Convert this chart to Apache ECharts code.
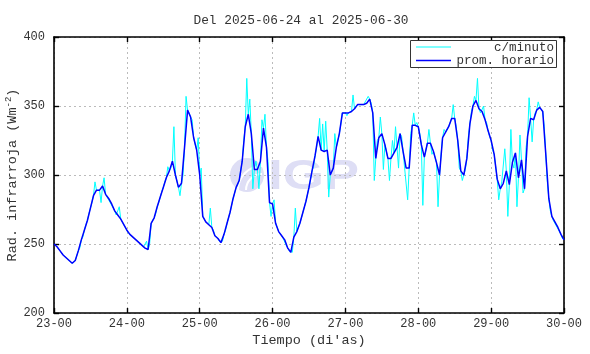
<!DOCTYPE html>
<html><head><meta charset="utf-8">
<script src="https://cdn.jsdelivr.net/npm/echarts@6/dist/echarts.min.js"></script>
<style>html,body{margin:0;padding:0;background:#fff}#c{width:590px;height:354px}</style>
</head><body><div id="c"></div>
<script>
// x tick labels (one per day, every 24 h)
const xTickLabels = ['23-00','24-00','25-00','26-00','27-00','28-00','29-00','30-00'];
// y axis range
const yMin = 200, yMax = 400, yStep = 50;
// hourly average (prom. horario), one value per hour starting 23-00
const hourly = [
 250,248,245,242,240,238,236,238,245,253,260,267,276,285,289,289,292,286,283,279,274,271,268,264,
 260,257,255,253,251,249,247,246,265,269,277,284,291,298,303,310,300,291,294,320,347,342,327,318,
 300,270,266,264,262,256,254,251,257,265,273,283,291,296,310,335,344,330,304,304,310,334,320,280,
 279,265,259,256,253,247,244,255,259,265,273,281,291,303,314,328,318,317,318,300,305,320,330,345,
 345,345,346,348,351,351,351,352,355,345,312,327,330,322,312,312,316,320,330,317,305,305,336,336,
 335,322,313,323,323,317,309,300,327,331,335,341,341,325,303,300,312,337,350,354,348,346,340,332,
 325,315,297,290,294,303,293,309,316,298,311,290,328,341,340,347,349,346,315,283,270,266,262,257,
 253
];
// per-minute data (c/minuto) read at the half hours, showing spikes
const minuteMid = [
 249,247,244,241,239,237,235,239,247,255,264,272,280,295,290,280,298,284,280,276,271,277,268,262,
 258,256,254,252,250,248,252,250,266,272,280,288,295,306,305,335,300,285,300,357,345,340,326,327,
 305,270,265,276,260,255,252,252,260,269,278,287,293,303,325,370,355,290,310,290,340,344,310,270,
 282,262,258,254,249,245,244,276,262,269,277,286,297,306,320,341,337,339,284,300,330,325,337,344,
 343,346,358,349,352,350,353,357,352,296,325,342,304,322,296,325,335,305,328,305,282,330,345,338,
 330,278,318,333,315,318,277,315,333,330,338,351,335,305,296,304,328,346,357,370,345,350,338,328,
 318,306,282,295,319,270,333,305,277,329,287,320,356,324,345,353,348,335,295,274,267,263,259,254
];

const blueData = hourly.map((v,i)=>[i,v]);
const cyanData = [];
for (let i=0;i<hourly.length;i++){
  cyanData.push([i, hourly[i]]);
  if (i < minuteMid.length) cyanData.push([i+0.5, minuteMid[i]]);
}
const mono = 'Liberation Mono';
const tc = '#333';
const wm = '#dedef5';
const chart = echarts.init(document.getElementById('c'), null, {renderer:'canvas'});
const axisCommon = {
  axisLine:{show:true, onZero:false, lineStyle:{color:'#000', width:1.6}},
  axisTick:{show:true, inside:true, length:5, lineStyle:{color:'#000', width:1.4}},
};
chart.setOption({
  animation:false,
  backgroundColor:'#fff',
  title:{text:'Del 2025-06-24 al 2025-06-30', left:296, textAlign:'center', top:9,
    textStyle:{fontFamily:mono, fontSize:12.8, fontWeight:'normal', color:tc}},
  grid:{left:54, right:26, top:37, bottom:41, containLabel:false, outerBoundsMode:'none'},
  xAxis:[
    Object.assign({type:'value', min:0, max:168, interval:24, position:'bottom',
      name:"Tiempo (di'as)", nameLocation:'middle', nameGap:20, nameMoveOverlap:false,
      nameTextStyle:{fontFamily:mono, fontSize:13.5, color:tc},
      axisLabel:{fontFamily:mono, fontSize:12, color:tc, margin:5,
        formatter:v=>xTickLabels[Math.round(v/24)]},
      splitLine:{show:true, lineStyle:{color:'#bbb', type:[2,3], width:1}}
    }, axisCommon),
    Object.assign({type:'value', min:0, max:168, interval:24, position:'top',
      axisLabel:{show:false}, splitLine:{show:false}}, axisCommon)
  ],
  yAxis:[
    Object.assign({type:'value', min:yMin, max:yMax, interval:yStep, position:'left',
      name:'Rad. infrarroja (Wm{sup|-2})', nameLocation:'middle', nameGap:33, nameRotate:90,
      nameMoveOverlap:false,
      nameTextStyle:{fontFamily:mono, fontSize:13.5, color:tc,
        rich:{sup:{fontFamily:mono, fontSize:9, color:tc, verticalAlign:'bottom', padding:[0,0,8,0]}}},
      axisLabel:{fontFamily:mono, fontSize:12, color:tc, margin:9},
      splitLine:{show:true, lineStyle:{color:'#bbb', type:[2,3], width:1}}
    }, axisCommon),
    Object.assign({type:'value', min:yMin, max:yMax, interval:yStep, position:'right',
      axisLabel:{show:false}, splitLine:{show:false}}, axisCommon)
  ],
  graphic:[
    {type:'circle', shape:{cx:247, cy:175, r:17}, style:{fill:wm}, z:0, silent:true},
    {type:'arc', shape:{cx:262, cy:190, r:16, startAngle:Math.PI, endAngle:Math.PI*1.5}, style:{stroke:'#fff', lineWidth:2, fill:null}, z:0, silent:true},
    {type:'arc', shape:{cx:262, cy:190, r:24, startAngle:Math.PI, endAngle:Math.PI*1.5}, style:{stroke:'#fff', lineWidth:2, fill:null}, z:0, silent:true},
    {type:'text', x:268, y:156, scaleX:1.26, style:{text:'IGP', fontFamily:'Liberation Sans', fontWeight:'bold', fontSize:42, fill:wm}, z:0, silent:true},
    {type:'rect', shape:{x:410.5, y:40.5, width:146, height:27}, style:{fill:'#fff', stroke:'#333', lineWidth:1}, z:100},
    {type:'line', shape:{x1:416, y1:47, x2:451, y2:47}, style:{stroke:'#00ffff', lineWidth:1}, z:101},
    {type:'line', shape:{x1:416, y1:60.5, x2:451, y2:60.5}, style:{stroke:'#0000ff', lineWidth:1.5}, z:101},
    {type:'text', right:36, top:41, style:{text:'c/minuto', fontFamily:mono, fontSize:12.5, fill:tc, textAlign:'right'}, z:101},
    {type:'text', right:36, top:54, style:{text:'prom. horario', fontFamily:mono, fontSize:12.5, fill:tc, textAlign:'right'}, z:101}
  ],
  series:[
    {type:'line', name:'c/minuto', data:cyanData, showSymbol:false, symbol:'none',
      lineStyle:{color:'#00ffff', width:1}, z:3},
    {type:'line', name:'prom. horario', data:blueData, showSymbol:false, symbol:'none',
      lineStyle:{color:'#0000ff', width:1.5}, z:4}
  ]
});
</script></body></html>
